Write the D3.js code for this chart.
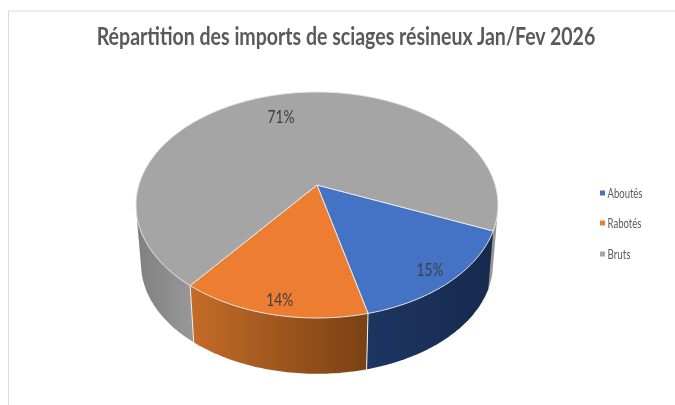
<!DOCTYPE html>
<html><head><meta charset="utf-8">
<script src="https://cdn.jsdelivr.net/npm/d3@7/dist/d3.min.js"></script>
<style>html,body{margin:0;padding:0;background:#fff}svg{display:block;filter:blur(0.35px)}</style></head>
<body><svg id="c" width="675" height="405"></svg>
<script>
const categories = ["Aboutés","Rabotés","Bruts"];
const values = [14.8,14.3,70.9];
const colors = ["#4472c4","#ed7d31","#a5a5a5"];
const wallStart = ["#1d3562","#c46c28","#7f7f7f"];
const wallEnd = ["#162a4e","#7a4114","#979797"];
const labelRadius = [0.88,0.90,0.735];
const labelShiftDeg = [1,-0.7,-3.4];
const legendY = [193,223,254];
const legendWidth = [35,34,23];
const titleText = "Répartition des imports de sciages résineux Jan/Fev 2026";

const W=675,H=405, FONT="Lato, 'Open Sans', sans-serif";
const svg=d3.select("#c");
const cx=317, cy=205, rx=181, ry=113, e=(185-205)/113;
const vanishY=2310, wallScale=0.972;
const startDeg=113;
const rad=Math.PI/180;
const sx=d3.scaleLinear().domain([-1,1]).range([cx-rx,cx+rx]);
const sy=d3.scaleLinear().domain([-1,1]).range([cy-ry,cy+ry]);
const color=d3.scaleOrdinal().domain(categories).range(colors);

function project(a,r=1){
  const u=r*Math.sin(a), v=-r*Math.cos(a), d=1+e*v;
  return [sx(u*Math.sqrt(1-e*e)/d), sy((v+e)/d)];
}
const lower=p=>[cx+wallScale*(p[0]-cx), vanishY+wallScale*(p[1]-vanishY)];
const line=d3.line();
const pie=d3.pie().sort(null).value(d=>d).startAngle(startDeg*rad).endAngle((startDeg+360)*rad);
const arcs=pie(values).map((d,i)=>{
  const n=Math.max(2,Math.round((d.endAngle-d.startAngle)*60));
  const pts=d3.range(n+1).map(k=>project(d.startAngle+(d.endAngle-d.startAngle)*k/n));
  return {...d,i,pts};
});
// place a text so that it spans a given width, keeping its height
function fitted(x,y,anchor,size,weight,fill,str,width){
  const t=svg.append("text").attr("text-anchor",anchor).attr("font-family",FONT)
    .attr("font-size",size).attr("font-weight",weight).attr("fill",fill).text(str);
  const len=t.node().getComputedTextLength();
  t.attr("transform",`translate(${x},${y}) scale(${width/len},1)`);
  return t;
}

svg.append("path").attr("d",line([[8.5,H],[8.5,11],[W,11]]))
  .attr("fill","none").attr("stroke","#dcdcdc").attr("stroke-width",1);

const defs=svg.append("defs");
arcs.forEach(a=>{
  const end=a.pts.findIndex(p=>p[1]<cy-20);
  const xs=(end<0?a.pts:a.pts.slice(0,end)).map(p=>p[0]);
  const g=defs.append("linearGradient").attr("id","w"+a.i).attr("gradientUnits","userSpaceOnUse")
    .attr("x1",d3.min(xs)).attr("x2",d3.max(xs)).attr("y1",0).attr("y2",0);
  g.append("stop").attr("offset",0).attr("stop-color",wallStart[a.i]);
  g.append("stop").attr("offset",1).attr("stop-color",wallEnd[a.i]);
});
// walls: hull of each slice's upper and lower rim; the largest (rear) slice first
arcs.slice().reverse().forEach(a=>{
  const hull=d3.polygonHull(a.pts.concat(a.pts.map(lower)));
  svg.append("path").attr("d",line(hull)+"Z").attr("fill",`url(#w${a.i})`);
});
// front wall edges
arcs.forEach(a=>{
  const p=a.pts[0];
  if(p[1]>cy+40) svg.append("path").attr("d",line([p,lower(p)]))
    .attr("stroke","#f2f2f2").attr("stroke-width",1).attr("fill","none");
});
// top faces
const apex=project(0,0);
arcs.forEach(a=>{
  svg.append("path").attr("d",line([apex,...a.pts])+"Z")
    .attr("fill",color(categories[a.i])).attr("stroke","#e8e8e8").attr("stroke-width",1).attr("stroke-linejoin","round");
});
// labels
arcs.forEach(a=>{
  const [x,y]=project((a.startAngle+a.endAngle)/2+labelShiftDeg[a.i]*rad,labelRadius[a.i]);
  fitted(x,y+6.5,"middle",18,400,"#404040",d3.format(".0f")(a.value)+"%",27);
});
// title
fitted(346,45,"middle",24,700,"#595959",titleText,499);
// legend
categories.forEach((c,i)=>{
  svg.append("rect").attr("x",600).attr("y",legendY[i]-2.5).attr("width",5).attr("height",5).attr("fill",color(c));
  fitted(607.5,legendY[i]+4.5,"start",13.5,400,"#595959",c,legendWidth[i]);
});
</script></body></html>
